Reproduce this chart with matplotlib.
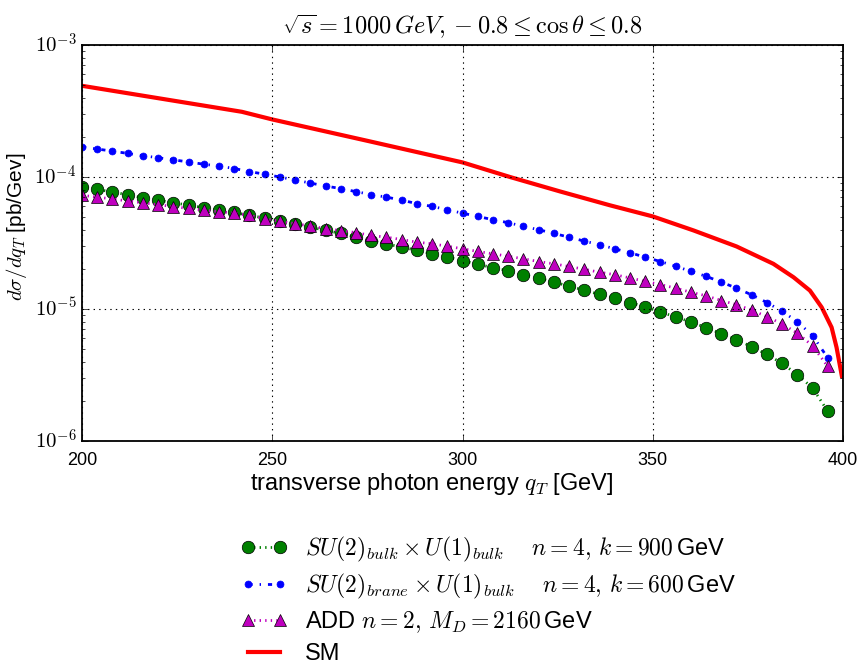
import math

import matplotlib
matplotlib.use("Agg")
import matplotlib.pyplot as plt
from matplotlib.ticker import FuncFormatter, LogLocator

# photon energy grid of the model curves (GeV)
q_T = [200 + 4 * i for i in range(50)]

# SU(2)_bulk x U(1)_bulk, n=4, k=900 GeV
bulk_bulk = [
    8.4e-5, 8.07e-5, 7.69e-5, 7.34e-5, 6.97e-5, 6.68e-5, 6.39e-5, 6.12e-5, 5.86e-5, 5.61e-5,
    5.40e-5, 5.12e-5, 4.89e-5, 4.67e-5, 4.43e-5, 4.18e-5, 3.94e-5, 3.74e-5, 3.52e-5, 3.29e-5,
    3.12e-5, 2.94e-5, 2.79e-5, 2.62e-5, 2.47e-5, 2.33e-5, 2.18e-5, 2.06e-5, 1.95e-5, 1.82e-5,
    1.71e-5, 1.60e-5, 1.49e-5, 1.39e-5, 1.29e-5, 1.21e-5, 1.12e-5, 1.04e-5, 9.5e-6, 8.71e-6,
    7.98e-6, 7.23e-6, 6.51e-6, 5.86e-6, 5.18e-6, 4.53e-6, 3.87e-6, 3.19e-6, 2.52e-6, 1.68e-6,
]

# SU(2)_brane x U(1)_bulk, n=4, k=600 GeV
brane_bulk = [
    1.69e-4, 1.63e-4, 1.57e-4, 1.51e-4, 1.45e-4, 1.40e-4, 1.35e-4, 1.30e-4, 1.25e-4, 1.21e-4,
    1.16e-4, 1.10e-4, 1.05e-4, 1.00e-4, 9.49e-5, 9.0e-5, 8.55e-5, 8.17e-5, 7.75e-5, 7.36e-5,
    7.04e-5, 6.69e-5, 6.28e-5, 5.99e-5, 5.65e-5, 5.32e-5, 5.03e-5, 4.75e-5, 4.51e-5, 4.23e-5,
    3.99e-5, 3.74e-5, 3.50e-5, 3.27e-5, 3.07e-5, 2.86e-5, 2.67e-5, 2.47e-5, 2.29e-5, 2.11e-5,
    1.93e-5, 1.77e-5, 1.60e-5, 1.44e-5, 1.28e-5, 1.12e-5, 9.6e-6, 8.02e-6, 6.28e-6, 4.26e-6,
]

# ADD, n=2, M_D=2160 GeV
add_model = [
    7.26e-5, 7.05e-5, 6.81e-5, 6.59e-5, 6.37e-5, 6.18e-5, 5.96e-5, 5.78e-5, 5.61e-5, 5.47e-5,
    5.32e-5, 5.12e-5, 4.83e-5, 4.63e-5, 4.43e-5, 4.26e-5, 4.06e-5, 3.93e-5, 3.79e-5, 3.61e-5,
    3.50e-5, 3.36e-5, 3.21e-5, 3.12e-5, 2.99e-5, 2.86e-5, 2.73e-5, 2.62e-5, 2.51e-5, 2.40e-5,
    2.29e-5, 2.20e-5, 2.10e-5, 2.00e-5, 1.90e-5, 1.82e-5, 1.72e-5, 1.62e-5, 1.53e-5, 1.44e-5,
    1.34e-5, 1.26e-5, 1.16e-5, 1.08e-5, 9.8e-6, 8.75e-6, 7.71e-6, 6.56e-6, 5.27e-6, 3.67e-6,
]

# Standard Model background
sm_q_T = [200, 242, 250, 275, 300, 312.5, 325.6, 338.8, 350, 360.7, 372, 381.7, 387, 391.3,
          394.4, 397, 398.3, 399.7]
sm = [4.91e-4, 3.12e-4, 2.73e-4, 1.88e-4, 1.29e-4, 1.0e-4, 7.78e-5, 6.10e-5, 5.03e-5, 3.94e-5,
      2.98e-5, 2.20e-5, 1.74e-5, 1.38e-5, 1.03e-5, 7.26e-6, 5.12e-6, 3.1e-6]

plt.style.use("classic")
plt.rcParams["font.family"] = "sans-serif"
plt.rcParams["font.sans-serif"] = ["Liberation Sans", "DejaVu Sans"]
plt.rcParams["mathtext.fontset"] = "cm"

fig = plt.figure(figsize=(8.59, 6.66), dpi=100, facecolor="white")
ax = fig.add_axes([0.0955, 0.3378, 0.8859, 0.5946])

ax.plot(q_T, bulk_bulk, color="g", linestyle=":", linewidth=2, marker="o", markersize=9,
        markeredgecolor="k", markerfacecolor="g",
        label=r"$SU(2)_{bulk}\times U(1)_{bulk}\quad\ n=4,\,k=900\,$GeV")
ax.plot(q_T, brane_bulk, color="b", linestyle="-.", linewidth=2, marker="o", markersize=5,
        markeredgecolor="b", markerfacecolor="b",
        label=r"$SU(2)_{brane}\times U(1)_{bulk}\quad\ n=4,\,k=600\,$GeV")
ax.plot(q_T, add_model, color="m", linestyle=":", linewidth=2, marker="^", markersize=9,
        markeredgecolor="k", markerfacecolor="m",
        label=r"ADD $n=2,\,M_D=2160\,$GeV")
ax.plot(sm_q_T, sm, color="r", linestyle="-", linewidth=3, label="SM")

ax.set_yscale("log")
ax.set_xlim(200, 400)
ax.set_ylim(1e-6, 1e-3)
ax.set_xticks([200, 250, 300, 350, 400])
ax.yaxis.set_major_locator(LogLocator(base=10))
ax.yaxis.set_major_formatter(FuncFormatter(lambda v, pos: r"$10^{%d}$" % round(math.log10(v))))
ax.tick_params(axis="x", labelsize=13, pad=8)
ax.tick_params(axis="y", labelsize=15)
ax.grid(True, which="major", color="k", linestyle=":", linewidth=0.8)
for spine in ax.spines.values():
    spine.set_linewidth(1.3)

ax.set_title(r"$\sqrt{s}=1000\,GeV, -0.8\leq\cos\theta\leq 0.8$", fontsize=17.5, pad=8)
ax.set_xlabel(r"transverse photon energy $q_T$ [GeV]", fontsize=17)
ax.set_ylabel(r"$d\sigma/dq_T$ [pb/Gev]", fontsize=15)
ax.xaxis.set_label_coords(0.46, -0.075)
ax.yaxis.set_label_coords(-0.07, 0.54)

fig.legend(loc="center", bbox_to_anchor=(0.5685, 0.099), frameon=False, numpoints=2,
           fontsize=17, handlelength=1.95, handletextpad=0.76, labelspacing=0.35)

fig.savefig("out.png", dpi=100, facecolor="white")
